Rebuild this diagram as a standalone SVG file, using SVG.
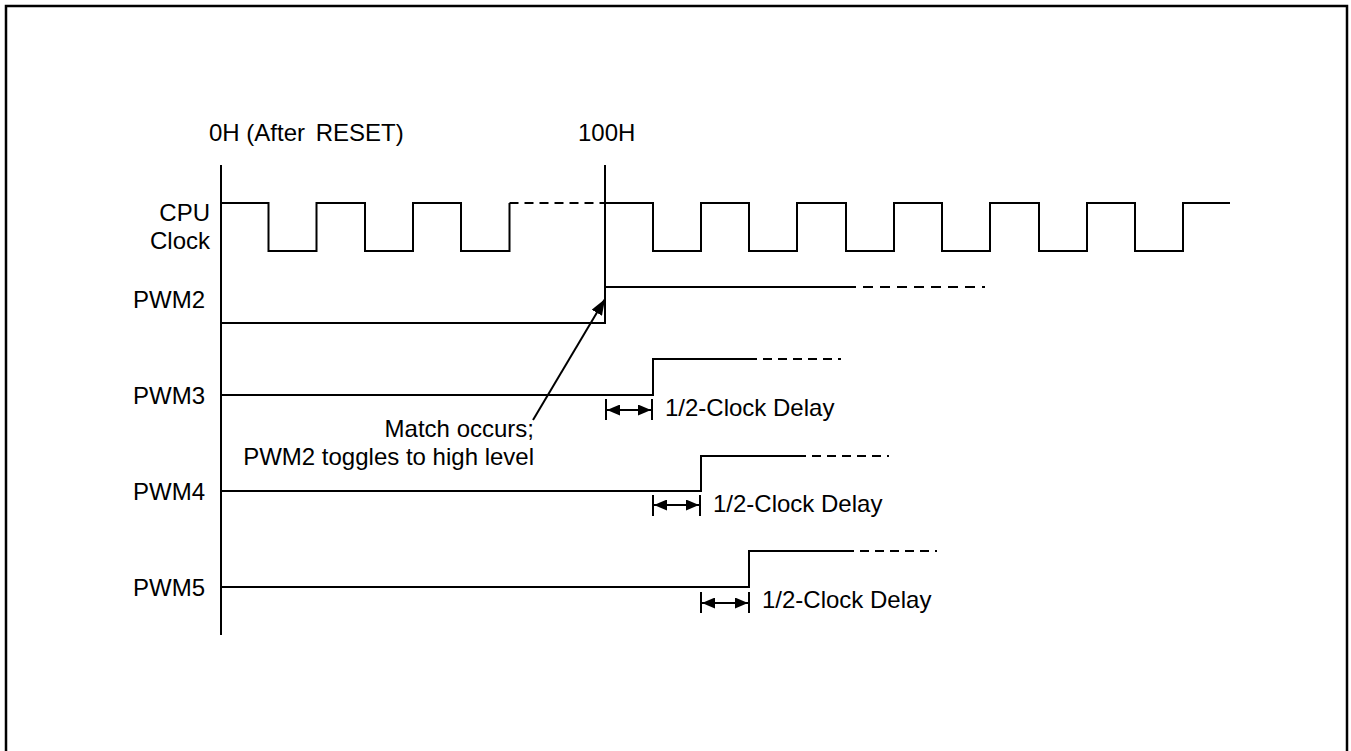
<svg xmlns="http://www.w3.org/2000/svg" width="1351" height="751" viewBox="0 0 1351 751">
<style>
text{font-family:"Liberation Sans",Arial,sans-serif;font-size:24px;fill:#000}
.w{fill:none;stroke:#000;stroke-width:2}
.d{fill:none;stroke:#000;stroke-width:2;stroke-dasharray:9 6}
.r{text-anchor:end}
</style>
<defs>
<marker id="ah" viewBox="0 0 13 11" refX="13" refY="5.5" markerWidth="13" markerHeight="11" markerUnits="userSpaceOnUse" orient="auto-start-reverse"><path d="M0,0 L13,5.5 L0,11 z" fill="#000"/></marker>
<marker id="ah2" viewBox="0 0 16 12" refX="16" refY="6" markerWidth="16" markerHeight="12" markerUnits="userSpaceOnUse" orient="auto"><path d="M0,0 L16,6 L0,12 z" fill="#000"/></marker>
</defs>
<rect x="6" y="6" width="1341" height="770" fill="#fff" stroke="#000" stroke-width="2.5"/>
<g id="axes">
<path class="w" d="M221,165 V635"/>
<path class="w" d="M605,165 V323"/>
<text x="209" y="141">0H (After <tspan dx="4">RESET)</tspan></text>
<text x="578" y="141">100H</text>
</g>
<g id="cpu-clock">
<text class="r" x="210" y="221">CPU</text>
<text class="r" x="210" y="249">Clock</text>
<path class="w" d="M221,203 H268.5 V251 H316.5 V203 H365 V251 H413 V203 H461 V251 H509.5 V203"/>
<path class="d" d="M509.5,203 H605"/>
<path class="w" d="M605,203 H653 V251 H701 V203 H749 V251 H797 V203 H846 V251 H894 V203 H942 V251 H990 V203 H1039 V251 H1087 V203 H1135 V251 H1183 V203 H1230"/>
</g>
<g id="pwm2">
<text class="r" x="205" y="308">PWM2</text>
<path class="w" d="M221,323 H605 V287 H846"/>
<path class="d" d="M846,287 H985" style="stroke-dasharray:10 7"/>
</g>
<g id="pwm3">
<text class="r" x="205" y="404">PWM3</text>
<path class="w" d="M221,395 H653 V359 H748"/>
<path class="d" d="M748,359 H841"/>
</g>
<g id="pwm4">
<text class="r" x="205" y="500">PWM4</text>
<path class="w" d="M221,491 H701 V456 H797"/>
<path class="d" d="M797,456 H889"/>
</g>
<g id="pwm5">
<text class="r" x="205" y="596">PWM5</text>
<path class="w" d="M221,587 H749 V551 H845"/>
<path class="d" d="M845,551 H937"/>
</g>
<g id="connectors">
<path class="w" d="M533,420 L605,299" marker-end="url(#ah2)"/>
<path class="w" d="M606,399 V420 M652,399 V420"/>
<path class="w" d="M607,410 H651" marker-start="url(#ah)" marker-end="url(#ah)"/>
<path class="w" d="M653,495 V516 M700,495 V516"/>
<path class="w" d="M654,505 H699" marker-start="url(#ah)" marker-end="url(#ah)"/>
<path class="w" d="M701,592 V613 M749,592 V613"/>
<path class="w" d="M702,603 H748" marker-start="url(#ah)" marker-end="url(#ah)"/>
</g>
<g id="labels">
<text class="r" x="534" y="437">Match occurs;</text>
<text class="r" x="534" y="465">PWM2 toggles to high level</text>
<text x="665" y="416">1/2-Clock Delay</text>
<text x="713" y="512">1/2-Clock Delay</text>
<text x="762" y="608">1/2-Clock Delay</text>
</g>
</svg>
